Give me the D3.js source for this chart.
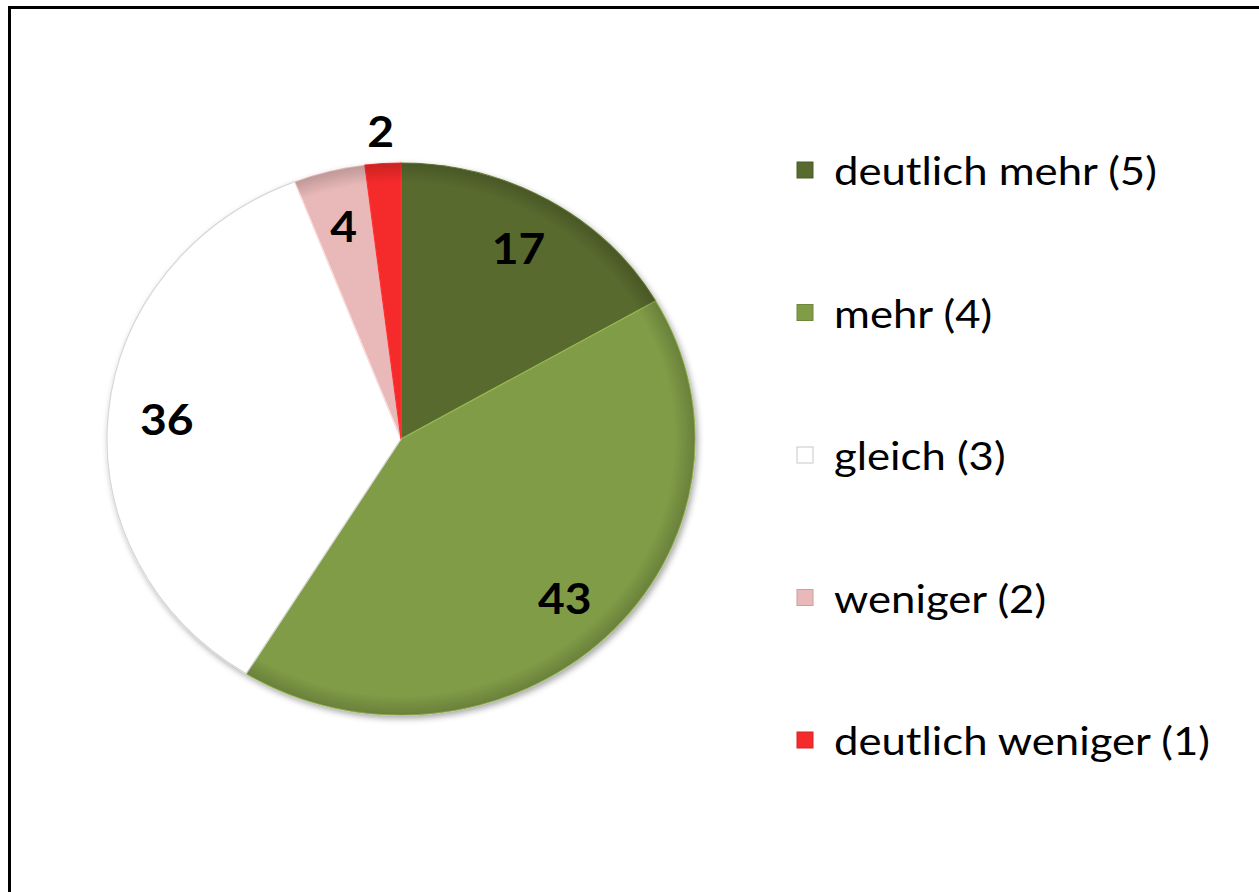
<!DOCTYPE html>
<html lang="de">
<head>
<meta charset="UTF-8">
<title>Pie</title>
<script src="https://cdn.jsdelivr.net/npm/d3@7"></script>
<style>
  html, body { margin: 0; padding: 0; background: #fff; }
  svg { display: block; }
</style>
</head>
<body>
<div id="chart"></div>
<script>
  // data
  var categories = ["deutlich mehr (5)", "mehr (4)", "gleich (3)", "weniger (2)", "deutlich weniger (1)"];
  var values = [17, 43, 36, 4, 2];
  var colors = ["#586a2d", "#809c46", "#ffffff", "#e8b9b8", "#f52a2a"];

  var W = 1259, H = 892;
  var cx = 401, cy = 439;
  var ry = 276, rx = 294;   // the picture is a bit wider than tall
  var sx = 1.1;             // same stretch on the text

  var svg = d3.select("#chart").append("svg")
      .attr("width", W).attr("height", H);

  var defs = svg.append("defs");
  var shadow = defs.append("filter").attr("id", "shadow")
      .attr("x", "-10%").attr("y", "-10%").attr("width", "120%").attr("height", "120%");
  shadow.append("feDropShadow")
      .attr("dx", 2).attr("dy", 3).attr("stdDeviation", 3)
      .attr("flood-color", "#000").attr("flood-opacity", 0.35);

  // darker rim to fake the bevel
  var rim = defs.append("radialGradient").attr("id", "rim")
      .attr("gradientUnits", "userSpaceOnUse")
      .attr("cx", 0).attr("cy", 0).attr("r", ry);
  rim.append("stop").attr("offset", "0.93").attr("stop-color", "#000").attr("stop-opacity", 0);
  rim.append("stop").attr("offset", "1").attr("stop-color", "#000").attr("stop-opacity", 0.18);

  // frame
  svg.append("rect")
      .attr("x", 9.5).attr("y", 7.5)
      .attr("width", W + 20).attr("height", H + 20)
      .attr("fill", "none").attr("stroke", "#000").attr("stroke-width", 3);

  var pie = d3.pie().sort(null).value(function(d) { return d; });
  var arcs = pie(values);
  var arc = d3.arc().innerRadius(0).outerRadius(ry);

  var g = svg.append("g")
      .attr("transform", "translate(" + cx + "," + cy + ") scale(" + (rx / ry) + ",1)");

  var slices = g.append("g").attr("filter", "url(#shadow)");
  slices.selectAll("path.slice")
    .data(arcs)
    .enter().append("path")
      .attr("class", "slice")
      .attr("d", arc)
      .attr("fill", function(d, i) { return colors[i]; })
      .attr("stroke", function(d, i) { return i === 2 ? "#d8d8d8" : d3.color(colors[i]).brighter(0.5); })
      .attr("stroke-width", 1.2)
      .attr("stroke-linejoin", "round");

  g.selectAll("path.rim")
    .data(arcs)
    .enter().append("path")
      .attr("class", "rim")
      .attr("d", arc)
      .attr("fill", function(d, i) { return i === 2 ? "none" : "url(#rim)"; });

  // labels
  function labelPos(d) {
    var f = d.value < 3 ? 1.12 : 0.8;
    var a = (d.startAngle + d.endAngle) / 2;
    return [cx + rx * f * Math.sin(a), cy - ry * f * Math.cos(a)];
  }
  svg.selectAll("text.val")
    .data(arcs)
    .enter().append("text")
      .attr("class", "val")
      .attr("transform", function(d) {
        var p = labelPos(d);
        return "translate(" + p[0] + "," + p[1] + ") scale(" + sx + ",1)";
      })
      .attr("text-anchor", "middle")
      .attr("dominant-baseline", "central")
      .attr("font-family", "Lato, sans-serif")
      .attr("font-weight", "bold")
      .attr("font-size", 42)
      .attr("fill", "#000")
      .text(function(d) { return d.value; });

  // legend
  var legY = d3.scalePoint().domain(categories).range([170, 740]);
  var leg = svg.selectAll("g.leg")
    .data(categories)
    .enter().append("g")
      .attr("class", "leg")
      .attr("transform", function(d) { return "translate(797," + legY(d) + ")"; });
  leg.append("rect")
      .attr("x", 0).attr("y", -8).attr("width", 16).attr("height", 16)
      .attr("fill", function(d, i) { return colors[i]; })
      .attr("stroke", function(d, i) { return i === 2 ? "#c8c8c8" : d3.color(colors[i]).darker(0.4); })
      .attr("stroke-width", 1);
  leg.append("text")
      .attr("transform", "translate(37,0) scale(" + 1.12 + ",1)")
      .attr("dominant-baseline", "central")
      .attr("font-family", "Lato, sans-serif")
      .attr("font-size", 39)
      .attr("fill", "#000")
      .text(function(d) { return d; });
</script>
</body>
</html>
